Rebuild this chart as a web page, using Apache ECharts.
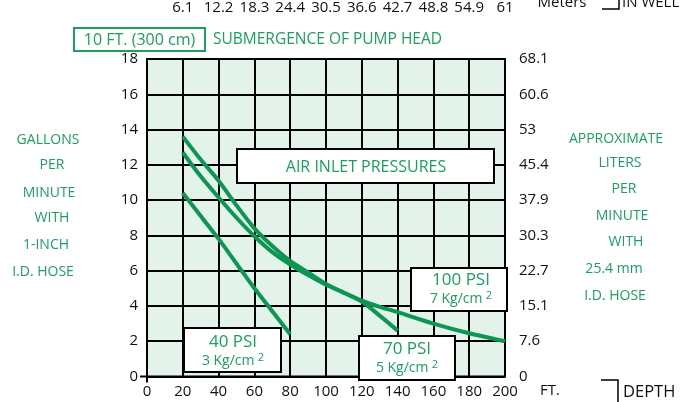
<!DOCTYPE html>
<html>
<head>
<meta charset="utf-8">
<title>Air inlet pressures</title>
<script src="https://cdn.jsdelivr.net/npm/echarts@6/dist/echarts.min.js"></script>
<style>
html, body { margin: 0; padding: 0; background: #fff; }
#container { width: 696px; height: 402px; }
</style>
</head>
<body>
<div id="container"></div>
<script>
var chartDom = document.getElementById('container');
var myChart = echarts.init(chartDom);

// depth in well, meters for each 20 ft tick (top)
var depthMeters = ['', '6.1', '12.2', '18.3', '24.4', '30.5', '36.6', '42.7', '48.8', '54.9', '61'];
// right axis: liters per minute for each 2 gpm tick
var litersLabels = ['0', '7.6', '15.1', '22.7', '30.3', '37.9', '45.4', '53', '60.6', '68.1'];

// curves: depth ft / gallons per minute
var psi40Ft = [20, 30, 40, 50, 60, 70, 80];
var psi40Gpm = [10.4, 9.1, 7.8, 6.4, 5.0, 3.7, 2.4];

var psi70Ft = [20, 30, 40, 50, 60, 70, 80, 90, 100, 110, 120, 130, 140];
var psi70Gpm = [12.7, 11.35, 10.15, 9.0, 7.95, 7.05, 6.35, 5.75, 5.2, 4.75, 4.25, 3.45, 2.6];

var psi100Ft = [20, 30, 40, 50, 60, 70, 80, 90, 100, 110, 120, 130, 140, 160, 180, 200];
var psi100Gpm = [13.6, 12.3, 11.1, 9.7, 8.4, 7.4, 6.55, 5.9, 5.25, 4.75, 4.3, 3.95, 3.65, 3.0, 2.45, 2.0];

function pairs(xs, ys) {
    return xs.map(function (x, i) { return [x, ys[i]]; });
}

var FONT = "'Open Sans', sans-serif";
var GREEN = '#1c9f5e';
var CURVE = '#0c9654';

function txt(text, x, y, size, color, align) {
    return {
        type: 'text', z: 100,
        style: {
            text: text, x: x, y: y,
            fill: color || GREEN,
            font: (size || 14) + 'px ' + FONT,
            align: align || 'center',
            verticalAlign: 'middle'
        }
    };
}

function box(x, y, w, h, stroke) {
    return {
        type: 'rect', z: 90,
        shape: { x: x, y: y, width: w, height: h },
        style: { fill: stroke ? 'transparent' : '#fff', stroke: stroke || '#000', lineWidth: 2 }
    };
}

function psiLabel(top, bottom, cx, y1, y2) {
    return {
        type: 'text', z: 100,
        style: {
            text: '{t|' + top + '}\n{m|' + bottom + '} {s|2}',
            x: cx, y: (y1 + y2) / 2,
            align: 'center', verticalAlign: 'middle',
            rich: {
                t: { fontSize: 17, fontFamily: FONT, fill: GREEN, lineHeight: 21 },
                m: { fontSize: 14, fontFamily: FONT, fill: GREEN, lineHeight: 18 },
                s: { fontSize: 11, fontFamily: FONT, fill: GREEN, lineHeight: 11, verticalAlign: 'top' }
            }
        }
    };
}

var lineStyle = { color: CURVE, width: 4 };

var graphics = [
    // header
    box(74, 28, 131, 23, GREEN),
    txt('10 FT. (300 cm)', 139.5, 40, 16),
    txt('SUBMERGENCE OF PUMP HEAD', 213, 40, 15.5, GREEN, 'left'),
    txt('Meters', 562, 3, 15, '#111'),
    { type: 'polyline', z: 100, shape: { points: [[602, 9], [619, 9], [619, -2]] }, style: { stroke: '#000', lineWidth: 1.5, fill: null } },
    txt('IN WELL', 622, 3, 15, '#111', 'left'),
    txt('FT.', 540, 391, 15, '#111', 'left'),
    { type: 'polyline', z: 100, shape: { points: [[601, 380], [618, 380], [618, 402]] }, style: { stroke: '#000', lineWidth: 1.5, fill: null } },
    txt('DEPTH', 623, 392, 16.5, '#111', 'left'),
    // left units
    txt('GALLONS', 48, 140), txt('PER', 52, 165), txt('MINUTE', 49, 193),
    txt('WITH', 52, 218), txt('1-INCH', 46, 245), txt('I.D. HOSE', 43, 272),
    // right units
    txt('APPROXIMATE', 616, 139), txt('LITERS', 620, 163), txt('PER', 624, 189),
    txt('MINUTE', 622, 216), txt('WITH', 626, 242), txt('25.4 mm', 614, 269), txt('I.D. HOSE', 615, 296),
    // label boxes
    box(237, 149, 257, 34),
    txt('AIR INLET PRESSURES', 366, 167, 16),
    box(184, 328, 97, 44),
    psiLabel('40 PSI', '3 Kg/cm', 233, 331, 371),
    box(359, 336, 96, 44),
    psiLabel('70 PSI', '5 Kg/cm', 407, 338, 378),
    box(411, 268, 96, 43),
    psiLabel('100 PSI', '7 Kg/cm', 461, 269, 309)
];

var option = {
    animation: false,
    grid: {
        left: 147, top: 55, width: 358, height: 321.5,
        show: true, backgroundColor: '#e3f3ea', borderColor: '#000', borderWidth: 2
    },
    xAxis: [{
        type: 'value', min: 0, max: 200, interval: 20, position: 'bottom',
        axisLine: { show: false }, axisTick: { show: false },
        axisLabel: { color: '#111', fontSize: 15, fontFamily: FONT, margin: 8 },
        splitLine: { lineStyle: { color: '#000', width: 2 } }
    }, {
        type: 'value', min: 0, max: 200, interval: 20, position: 'top',
        axisLine: { show: false }, axisTick: { show: false },
        axisLabel: {
            color: '#111', fontSize: 15, fontFamily: FONT, margin: 44,
            formatter: function (v) { return depthMeters[Math.round(v / 20)]; }
        },
        splitLine: { show: false }
    }],
    yAxis: [{
        type: 'value', min: 0, max: 18, interval: 2, position: 'left',
        axisLine: { show: false }, axisTick: { show: false },
        axisLabel: { color: '#111', fontSize: 15, fontFamily: FONT, margin: 9 },
        splitLine: { lineStyle: { color: '#000', width: 2 } }
    }, {
        type: 'value', min: 0, max: 18, interval: 2, position: 'right',
        axisLine: { show: false }, axisTick: { show: false },
        axisLabel: {
            color: '#111', fontSize: 15, fontFamily: FONT, margin: 14,
            formatter: function (v) { return litersLabels[Math.round(v / 2)]; }
        },
        splitLine: { show: false }
    }],
    series: [
        { type: 'line', smooth: 0.3, symbol: 'none', lineStyle: lineStyle, data: pairs(psi40Ft, psi40Gpm), z: 5 },
        { type: 'line', smooth: 0.3, symbol: 'none', lineStyle: lineStyle, data: pairs(psi70Ft, psi70Gpm), z: 5 },
        { type: 'line', smooth: 0.3, symbol: 'none', lineStyle: lineStyle, data: pairs(psi100Ft, psi100Gpm), z: 5 }
    ],
    graphic: { elements: graphics }
};

myChart.setOption(option);

// small ticks that stick out at the origin
var o = myChart.convertToPixel({ gridIndex: 0 }, [0, 0]);
graphics.push(
    { type: 'line', z: 100, shape: { x1: o[0] - 7, y1: o[1], x2: o[0], y2: o[1] }, style: { stroke: '#000', lineWidth: 2 } },
    { type: 'line', z: 100, shape: { x1: o[0], y1: o[1], x2: o[0], y2: o[1] + 6 }, style: { stroke: '#000', lineWidth: 2 } }
);
myChart.setOption({ graphic: { elements: graphics } }, { replaceMerge: ['graphic'] });
</script>
</body>
</html>
